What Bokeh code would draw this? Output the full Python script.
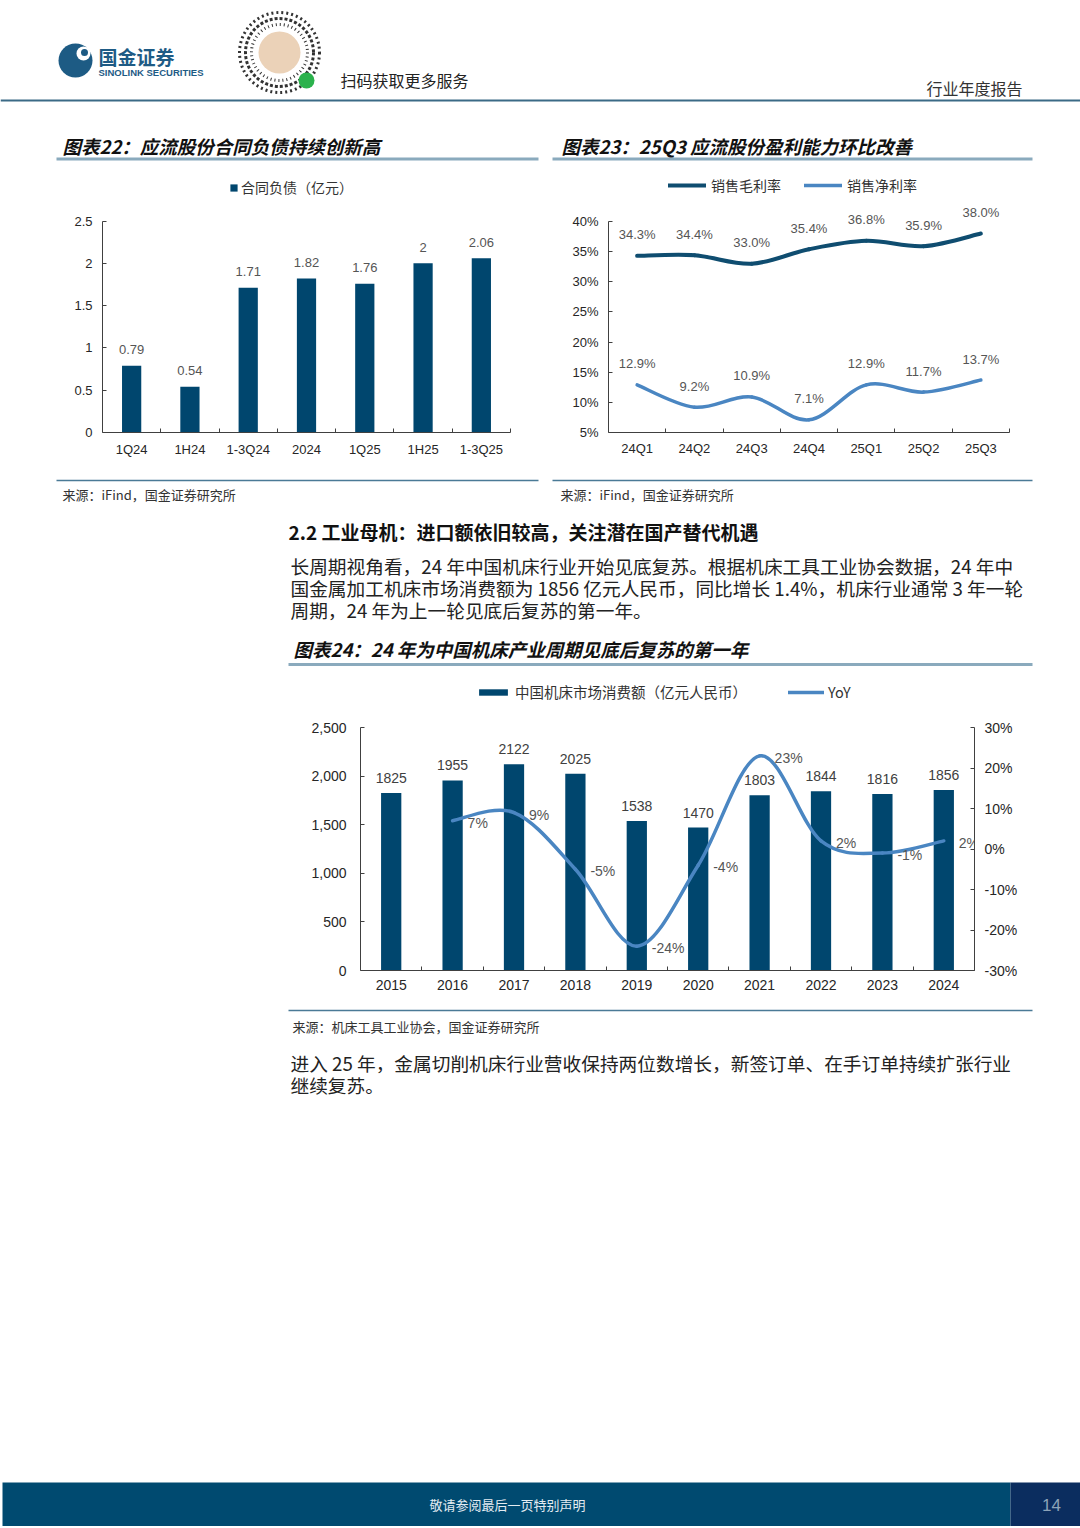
from bokeh.plotting import figure
from bokeh.layouts import column, row, Spacer
from bokeh.models import (Range1d, ColumnDataSource, LabelSet, Legend, LegendItem,
                          FixedTicker, LinearAxis, PrintfTickFormatter, NumeralTickFormatter)
from bokeh.core.properties import value
from bokeh.embed import file_html
from bokeh.resources import INLINE

CJK = "Noto Sans CJK SC"
LAT = "Liberation Sans"

# ---------------- data ----------------
c22_cats = ["1Q24", "1H24", "1-3Q24", "2024", "1Q25", "1H25", "1-3Q25"]
c22_vals = [0.79, 0.54, 1.71, 1.82, 1.76, 2, 2.06]

c23_cats = ["24Q1", "24Q2", "24Q3", "24Q4", "25Q1", "25Q2", "25Q3"]
c23_gross = [34.3, 34.4, 33.0, 35.4, 36.8, 35.9, 38.0]
c23_net = [12.9, 9.2, 10.9, 7.1, 12.9, 11.7, 13.7]

c24_years = ["2015", "2016", "2017", "2018", "2019", "2020", "2021", "2022", "2023", "2024"]
c24_sales = [1825, 1955, 2122, 2025, 1538, 1470, 1803, 1844, 1816, 1856]
c24_yoy_years = ["2016", "2017", "2018", "2019", "2020", "2021", "2022", "2023", "2024"]
c24_yoy = [7, 9, -5, -24, -4, 23, 2, -1, 2]

c22_ticks_y = [0, 0.5, 1, 1.5, 2, 2.5]
c23_ticks_y = [5, 10, 15, 20, 25, 30, 35, 40]
c24_ticks_y = [0, 500, 1000, 1500, 2000, 2500]
c24_ticks_y2 = [-30, -20, -10, 0, 10, 20, 30]

BAR = "#00466E"
DARKLINE = "#0F4D70"
LIGHTLINE = "#4A86C2"
AXIS = "#404040"
LBL = "#555555"
RULE_T = "#8AAABD"
RULE_S = "#4A7A96"

W = 1080


def canvas(y0, h, w=W, x0=0):
    p = figure(width=w, height=h, x_range=Range1d(x0, x0 + w), y_range=Range1d(y0 + h, y0),
               min_border=0, toolbar_location=None, output_backend="svg", title=None,
               x_axis_location=None, y_axis_location=None, outline_line_color=None,
               background_fill_color="white", border_fill_color="white")
    p.xgrid.visible = False
    p.ygrid.visible = False
    return p


def txt(p, x, y, s, size, color="#222222", font=CJK, align="left", style="normal"):
    p.text(x=[x], y=[y], text=[s], text_font=value(font), text_font_size=f"{size}px",
           text_color=color, text_align=align, text_baseline="middle", text_font_style=style)


def hline(p, x0, x1, y, color, width):
    p.segment(x0=[x0], y0=[y], x1=[x1], y1=[y], line_color=color, line_width=width)


def smooth(xs, ys):
    n = len(xs)
    d = dict(x0=[], y0=[], x1=[], y1=[], cx0=[], cy0=[], cx1=[], cy1=[])
    for i in range(n - 1):
        a = max(i - 1, 0)
        b = min(i + 2, n - 1)
        d["x0"].append(xs[i]); d["y0"].append(ys[i])
        d["x1"].append(xs[i + 1]); d["y1"].append(ys[i + 1])
        d["cx0"].append(xs[i] + (xs[i + 1] - xs[a]) / 6)
        d["cy0"].append(ys[i] + (ys[i + 1] - ys[a]) / 6)
        d["cx1"].append(xs[i + 1] - (xs[b] - xs[i]) / 6)
        d["cy1"].append(ys[i + 1] - (ys[b] - ys[i]) / 6)
    return ColumnDataSource(d)


def chart_fig(w, h, left, right, bottom, xr, yr):
    p = figure(width=w, height=h, x_range=xr, y_range=yr, toolbar_location=None, title=None,
               output_backend="svg", min_border_left=left, min_border_right=right,
               min_border_top=0, min_border_bottom=bottom, outline_line_color=None,
               background_fill_color="white", border_fill_color="white")
    p.xgrid.visible = False
    p.ygrid.visible = False
    return p


def top_value(lo, hi, fig_top, px_lo, px_hi):
    # range end so that the axis span [lo, hi] sits between px_lo (bottom) and px_hi (top)
    return lo + (hi - lo) * (px_lo - fig_top) / (px_lo - px_hi)


def style_x(p, n, cats, standoff, size):
    ax = p.xaxis[0]
    ax.ticker = FixedTicker(ticks=list(range(n)), minor_ticks=[i + 0.5 for i in range(n)])
    ax.major_label_overrides = {i: c for i, c in enumerate(cats)}
    ax.major_tick_line_color = None
    ax.major_tick_in = 0
    ax.major_tick_out = 0
    ax.minor_tick_line_color = AXIS
    ax.minor_tick_in = 4
    ax.minor_tick_out = 0
    ax.axis_line_color = AXIS
    ax.major_label_standoff = standoff
    ax.major_label_text_font = LAT
    ax.major_label_text_font_size = f"{size}px"
    ax.major_label_text_color = "#262626"


def style_y(ax, ticks, standoff, size):
    ax.ticker = FixedTicker(ticks=ticks)
    ax.bounds = (ticks[0], ticks[-1])
    ax.major_tick_in = 4
    ax.major_tick_out = 0
    ax.major_tick_line_color = AXIS
    ax.minor_tick_line_color = None
    ax.axis_line_color = AXIS
    ax.major_label_standoff = standoff
    ax.major_label_text_font = LAT
    ax.major_label_text_font_size = f"{size}px"
    ax.major_label_text_color = "#262626"


def legend(items, loc, size, gw, gh, standoff, spacing=0):
    return Legend(items=items, location=loc, orientation="horizontal", label_text_font=CJK,
                  label_text_font_size=f"{size}px", label_text_color="#333333",
                  glyph_width=gw, glyph_height=gh, label_standoff=standoff, spacing=spacing,
                  padding=0, margin=0, border_line_color=None, background_fill_alpha=0)


# ---------------- band 1 : header ----------------
b1 = canvas(0, 165)
b1.circle(x=[75], y=[60], radius=17, fill_color="#1D5B84", line_color=None)
b1.circle(x=[83], y=[53], radius=7, fill_color="white", line_color=None)
b1.circle(x=[84], y=[52], radius=3.5, fill_color="#1D5B84", line_color=None)
txt(b1, 98, 56, "国金证券", 19, color="#1E5B85", style="bold")
txt(b1, 98, 71.5, "SINOLINK SECURITIES", 9.5, color="#1E5B85", font=LAT, style="bold")
for r, dash in [(40, "2 3"), (34, "3 2"), (28, "1 3")]:
    b1.circle(x=[279], y=[52], radius=r, fill_color=None, line_color="#333333",
              line_width=3, line_dash=dash)
b1.circle(x=[279], y=[52], radius=21, fill_color="#EBD2B8", line_color=None)
b1.circle(x=[306], y=[80], radius=8, fill_color="#2BB24C", line_color=None)
txt(b1, 340, 79, "扫码获取更多服务", 16, color="#222222")
txt(b1, 1022, 87, "行业年度报告", 16, color="#333333", align="right")
hline(b1, 0, 1080, 100, "#3B6A86", 2)
txt(b1, 62, 145, "图表22：应流股份合同负债持续创新高", 18.5, color="#111111", style="bold italic")
txt(b1, 561, 145, "图表23：25Q3 应流股份盈利能力环比改善", 18.5, color="#111111", style="bold italic")
hline(b1, 56, 538, 158.5, RULE_T, 3)
hline(b1, 552, 1032, 158.5, RULE_T, 3)

# ---------------- chart 22 (x 0..540, y 165..478) ----------------
c22 = chart_fig(540, 313, 102, 30, 39, Range1d(-0.5, len(c22_cats) - 0.5),
                Range1d(0, top_value(0, 2.5, 165, 439, 222)))
src22 = ColumnDataSource(dict(x=list(range(len(c22_cats))), top=c22_vals,
                              label=[f"{v:g}" for v in c22_vals]))
r22 = c22.vbar(x="x", top="top", width=0.33, source=src22, fill_color=BAR, line_color=None)
c22.add_layout(LabelSet(x="x", y="top", text="label", source=src22, y_offset=16,
                        text_align="center", text_baseline="middle", text_font=value(LAT),
                        text_font_size="13px", text_color=LBL))
style_x(c22, len(c22_cats), c22_cats, 9, 13)
style_y(c22.yaxis[0], c22_ticks_y, 10, 13)
c22.yaxis[0].formatter = NumeralTickFormatter(format="0.[0]")
c22.add_layout(legend([LegendItem(label="合同负债（亿元）", renderers=[r22])],
                      (127, 235), 14, 9, 9, 3))

# ---------------- chart 23 (x 540..1080, y 165..478) ----------------
c23 = chart_fig(540, 313, 68, 71, 46, Range1d(-0.5, len(c23_cats) - 0.5),
                Range1d(5, top_value(5, 40, 165, 432, 221)))
xs23 = list(range(len(c23_cats)))
rg = c23.bezier(x0="x0", y0="y0", x1="x1", y1="y1", cx0="cx0", cy0="cy0", cx1="cx1", cy1="cy1",
                source=smooth(xs23, c23_gross), line_color=DARKLINE, line_width=4, line_cap="round")
rn = c23.bezier(x0="x0", y0="y0", x1="x1", y1="y1", cx0="cx0", cy0="cy0", cx1="cx1", cy1="cy1",
                source=smooth(xs23, c23_net), line_color=LIGHTLINE, line_width=3.5, line_cap="round")
for vals in (c23_gross, c23_net):
    s = ColumnDataSource(dict(x=xs23, y=vals, label=[f"{v:.1f}%" for v in vals]))
    c23.add_layout(LabelSet(x="x", y="y", text="label", source=s, y_offset=21,
                            text_align="center", text_baseline="middle", text_font=value(LAT),
                            text_font_size="13px", text_color=LBL))
style_x(c23, len(c23_cats), c23_cats, 8, 13)
style_y(c23.yaxis[0], c23_ticks_y, 10, 13)
c23.yaxis[0].formatter = PrintfTickFormatter(format="%d%%")
c23.add_layout(legend([LegendItem(label="销售毛利率", renderers=[rg]),
                       LegendItem(label="销售净利率", renderers=[rn])],
                      (60, 237), 14, 38, 10, 5, 23))

# ---------------- band 3 ----------------
b3 = canvas(478, 202)
hline(b3, 56, 538, 480, RULE_S, 1.5)
hline(b3, 552, 1032, 480, RULE_S, 1.5)
txt(b3, 62, 494, "来源：iFind，国金证券研究所", 13, color="#333333")
txt(b3, 560, 494, "来源：iFind，国金证券研究所", 13, color="#333333")
txt(b3, 288, 531, "2.2 工业母机：进口额依旧较高，关注潜在国产替代机遇", 19, color="#111111", style="bold")
txt(b3, 290, 565, "长周期视角看，24 年中国机床行业开始见底复苏。根据机床工具工业协会数据，24 年中", 18.7)
txt(b3, 290, 587, "国金属加工机床市场消费额为 1856 亿元人民币，同比增长 1.4%，机床行业通常 3 年一轮", 18.7)
txt(b3, 290, 609, "周期，24 年为上一轮见底后复苏的第一年。", 18.7)
txt(b3, 293, 648, "图表24：24 年为中国机床产业周期见底后复苏的第一年", 18.5, color="#111111",
    style="bold italic")
hline(b3, 288, 1032, 664, RULE_T, 3)

# ---------------- chart 24 (x 288..1080, y 680..1008) ----------------
n24 = len(c24_years)
c24 = chart_fig(792, 328, 72, 106, 38, Range1d(-0.5, n24 - 0.5),
                Range1d(0, top_value(0, 2500, 680, 970, 727)))
c24.extra_y_ranges = {"yoy": Range1d(-30, top_value(-30, 30, 680, 970, 727))}
xs24 = list(range(n24))
src24 = ColumnDataSource(dict(x=xs24, top=c24_sales, label=[str(v) for v in c24_sales]))
rb = c24.vbar(x="x", top="top", width=0.33, source=src24, fill_color=BAR, line_color=None)
c24.add_layout(LabelSet(x="x", y="top", text="label", source=src24, y_offset=15,
                        text_align="center", text_baseline="middle", text_font=value(LAT),
                        text_font_size="14px", text_color="#404040"))
xy = [c24_years.index(y) for y in c24_yoy_years]
ry = c24.bezier(x0="x0", y0="y0", x1="x1", y1="y1", cx0="cx0", cy0="cy0", cx1="cx1", cy1="cy1",
                source=smooth(xy, c24_yoy), line_color=LIGHTLINE, line_width=3.5,
                line_cap="round", y_range_name="yoy")
srcy = ColumnDataSource(dict(x=xy, y=c24_yoy, label=[f"{v}%" for v in c24_yoy]))
c24.add_layout(LabelSet(x="x", y="y", text="label", source=srcy, y_range_name="yoy",
                        x_offset=15, y_offset=-2, text_align="left", text_baseline="middle",
                        text_font=value(LAT), text_font_size="14px", text_color=LBL))
style_x(c24, n24, c24_years, 9, 14)
style_y(c24.yaxis[0], c24_ticks_y, 14, 14)
c24.yaxis[0].formatter = NumeralTickFormatter(format="0,0")
ax2 = LinearAxis(y_range_name="yoy")
c24.add_layout(ax2, "right")
style_y(ax2, c24_ticks_y2, 10, 14)
ax2.formatter = PrintfTickFormatter(format="%d%%")
c24.add_layout(legend([LegendItem(label="中国机床市场消费额（亿元人民币）", renderers=[rb]),
                       LegendItem(label="YoY", renderers=[ry])],
                      (115, 268), 14.5, 36, 8, 4, 41))

# ---------------- band 5 ----------------
b5 = canvas(1008, 518)
hline(b5, 288, 1032, 1010, RULE_S, 1.5)
txt(b5, 292, 1026, "来源：机床工具工业协会，国金证券研究所", 13, color="#333333")
txt(b5, 290, 1062, "进入 25 年，金属切削机床行业营收保持两位数增长，新签订单、在手订单持续扩张行业", 18.7)
txt(b5, 290, 1084, "继续复苏。", 18.7)
b5.quad(left=[2], right=[1010], top=[1482], bottom=[1526], fill_color="#004A70", line_color=None)
b5.quad(left=[1010], right=[1080], top=[1482], bottom=[1526], fill_color="#0B2D5F", line_color=None)
txt(b5, 507, 1504, "敬请参阅最后一页特别声明", 13, color="#E4ECF2", align="center")
txt(b5, 1051, 1504, "14", 17, color="#8DA3B8", font=LAT, align="center")

page = column(b1, row(c22, c23), b3, row(Spacer(width=288, height=328), c24), b5)

open("out.html", "w").write(file_html(page, INLINE))
